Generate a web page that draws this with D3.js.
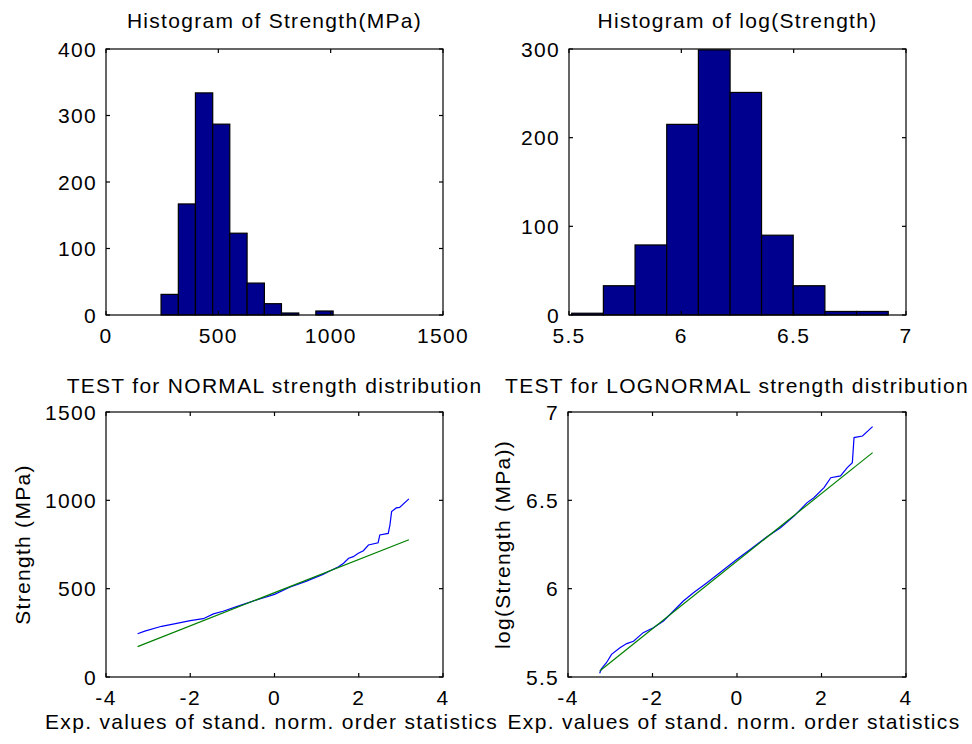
<!DOCTYPE html>
<html>
<head>
<meta charset="utf-8">
<script src="https://cdn.jsdelivr.net/npm/d3@7/dist/d3.min.js"></script>
<style>
  html, body { margin: 0; padding: 0; background: #fff; }
  svg { display: block; }
  text { font-family: "Liberation Sans", Arial, sans-serif; font-size: 21px; letter-spacing: 1.3px; fill: #000; }
</style>
</head>
<body>
<svg id="chart" width="972" height="744"></svg>
<script>
// ── Data ─────────────────────────────────────────────────────────

// Histogram of Strength(MPa): 10 bins
const strengthEdges  = [245, 322, 398, 475, 551, 628, 705, 781, 858, 934, 1011];
const strengthCounts = [31, 167, 334, 287, 123, 48, 17, 3, 0, 6];

// Histogram of log(Strength): 10 bins
const logEdges  = [5.512, 5.653, 5.794, 5.935, 6.076, 6.217, 6.357, 6.498, 6.639, 6.780, 6.921];
const logCounts = [2, 33, 79, 215, 299, 251, 90, 33, 4, 4];

// Normal probability plot: expected order statistics vs sorted strength
const normX = [-3.25, -3.08, -2.68, -2.32, -2.0, -1.69, -1.45, -1.22, -0.9, -0.43, 0, 0.36, 0.76,
               1.15, 1.36, 1.52, 1.64, 1.76, 1.87, 1.99, 2.11, 2.23, 2.46, 2.5, 2.7, 2.74, 2.78,
               2.89, 2.97, 3.19];
const normY = [245, 260, 287, 304, 319, 330, 357, 372, 398, 436, 468, 508, 543,
               581, 606, 624, 644, 672, 681, 700, 715, 747, 760, 804, 813, 860, 936,
               957, 960, 1008];
const normFitX = [-3.25, 3.19];
const normFitY = [172, 777];

// Lognormal probability plot
const lognX = [-3.25, -3.21, -3.09, -2.97, -2.77, -2.61, -2.45, -2.22, -1.98, -1.74, -1.58, -1.27,
               -1.03, -0.71, -0.40, 0, 0.32, 0.71, 1.03, 1.35, 1.66, 1.82, 2.06, 2.22, 2.45,
               2.61, 2.73, 2.77, 2.97, 3.21];
const lognY = [5.521, 5.547, 5.581, 5.628, 5.666, 5.689, 5.702, 5.751, 5.779, 5.817, 5.855, 5.930,
               5.977, 6.034, 6.091, 6.166, 6.223, 6.294, 6.345, 6.411, 6.487, 6.515, 6.572, 6.628, 6.638,
               6.685, 6.713, 6.855, 6.864, 6.917];
const lognFitX = [-3.25, 3.21];
const lognFitY = [5.534, 6.770];

// Ticks
const strengthTicksX = [0, 500, 1000, 1500];
const strengthTicksY = [0, 100, 200, 300, 400];
const logTicksX = [5.5, 6, 6.5, 7];
const logTicksY = [0, 100, 200, 300];
const qqTicksX = [-4, -2, 0, 2, 4];
const normTicksY = [0, 500, 1000, 1500];
const lognTicksY = [5.5, 6, 6.5, 7];

// ── Helpers ──────────────────────────────────────────────────────

const svg = d3.select('#chart');
const BAR_FILL = '#00008f';
const TICK_LEN = 4;

function panel(box, xDomain, yDomain, xTicks, yTicks, opts) {
  const x = d3.scaleLinear().domain(xDomain).range([box.x0, box.x1]);
  const y = d3.scaleLinear().domain(yDomain).range([box.y1, box.y0]);
  const g = svg.append('g');

  // contents first, box on top
  const plot = g.append('g');

  // box
  g.append('rect')
    .attr('x', box.x0).attr('y', box.y0)
    .attr('width', box.x1 - box.x0).attr('height', box.y1 - box.y0)
    .attr('fill', 'none').attr('stroke', '#000').attr('stroke-width', 1.2);

  // inward ticks on all four sides
  const tg = g.append('g').attr('stroke', '#000').attr('stroke-width', 1.2);
  xTicks.forEach(t => {
    tg.append('line').attr('x1', x(t)).attr('x2', x(t)).attr('y1', box.y1).attr('y2', box.y1 - TICK_LEN);
    tg.append('line').attr('x1', x(t)).attr('x2', x(t)).attr('y1', box.y0).attr('y2', box.y0 + TICK_LEN);
  });
  yTicks.forEach(t => {
    tg.append('line').attr('y1', y(t)).attr('y2', y(t)).attr('x1', box.x0).attr('x2', box.x0 + TICK_LEN);
    tg.append('line').attr('y1', y(t)).attr('y2', y(t)).attr('x1', box.x1).attr('x2', box.x1 - TICK_LEN);
  });

  // tick labels
  g.selectAll('.xt').data(xTicks).join('text')
    .attr('x', d => x(d)).attr('y', box.y1 + 28)
    .attr('text-anchor', 'middle')
    .text(d => String(d));
  g.selectAll('.yt').data(yTicks).join('text')
    .attr('x', box.x0 - 9).attr('y', d => y(d))
    .attr('dy', '0.36em')
    .attr('text-anchor', 'end')
    .text(d => String(d));

  // title
  g.append('text')
    .attr('x', (box.x0 + box.x1) / 2).attr('y', box.y0 - opts.titleGap)
    .attr('text-anchor', 'middle')
    .text(opts.title);

  if (opts.xLabel) {
    g.append('text')
      .attr('x', (box.x0 + box.x1) / 2 - 3).attr('y', box.y1 + 52)
      .attr('text-anchor', 'middle')
      .text(opts.xLabel);
  }
  if (opts.yLabel) {
    g.append('text')
      .attr('transform', `translate(${opts.yLabelX},${(box.y0 + box.y1) / 2}) rotate(-90)`)
      .attr('text-anchor', 'middle')
      .text(opts.yLabel);
  }
  return { x, y, plot };
}

function histogram(p, edges, counts) {
  const bins = counts.map((c, i) => ({ x0: edges[i], x1: edges[i + 1], c }));
  p.plot.selectAll('rect').data(bins.filter(b => b.c > 0)).join('rect')
    .attr('x', d => p.x(d.x0))
    .attr('y', d => p.y(d.c))
    .attr('width', d => p.x(d.x1) - p.x(d.x0))
    .attr('height', d => p.y(0) - p.y(d.c))
    .attr('fill', BAR_FILL)
    .attr('stroke', '#000')
    .attr('stroke-width', 1.2);
}

function series(p, xs, ys, color) {
  const line = d3.line().x(d => p.x(d[0])).y(d => p.y(d[1]));
  p.plot.append('path')
    .datum(xs.map((v, i) => [v, ys[i]]))
    .attr('d', line)
    .attr('fill', 'none')
    .attr('stroke', color)
    .attr('stroke-width', 1.2);
}

// ── Panels ───────────────────────────────────────────────────────

const p1 = panel({ x0: 106, x1: 443, y0: 49, y1: 315 }, [0, 1500], [0, 400],
  strengthTicksX, strengthTicksY, { title: 'Histogram of Strength(MPa)', titleGap: 21 });
histogram(p1, strengthEdges, strengthCounts);

const p2 = panel({ x0: 569, x1: 906, y0: 49, y1: 315 }, [5.5, 7], [0, 300],
  logTicksX, logTicksY, { title: 'Histogram of log(Strength)', titleGap: 21 });
histogram(p2, logEdges, logCounts);

const p3 = panel({ x0: 106, x1: 443, y0: 412, y1: 677 }, [-4, 4], [0, 1500],
  qqTicksX, normTicksY, {
    title: 'TEST for NORMAL strength distribution', titleGap: 19,
    xLabel: 'Exp. values of stand. norm. order statistics',
    yLabel: 'Strength (MPa)', yLabelX: 30
  });
series(p3, normX, normY, '#0000ff');
series(p3, normFitX, normFitY, '#008000');

const p4 = panel({ x0: 568, x1: 906, y0: 412, y1: 677 }, [-4, 4], [5.5, 7],
  qqTicksX, lognTicksY, {
    title: 'TEST for LOGNORMAL strength distribution', titleGap: 19,
    xLabel: 'Exp. values of stand. norm. order statistics',
    yLabel: 'log(Strength (MPa))', yLabelX: 510
  });
series(p4, lognX, lognY, '#0000ff');
series(p4, lognFitX, lognFitY, '#008000');
</script>
</body>
</html>
